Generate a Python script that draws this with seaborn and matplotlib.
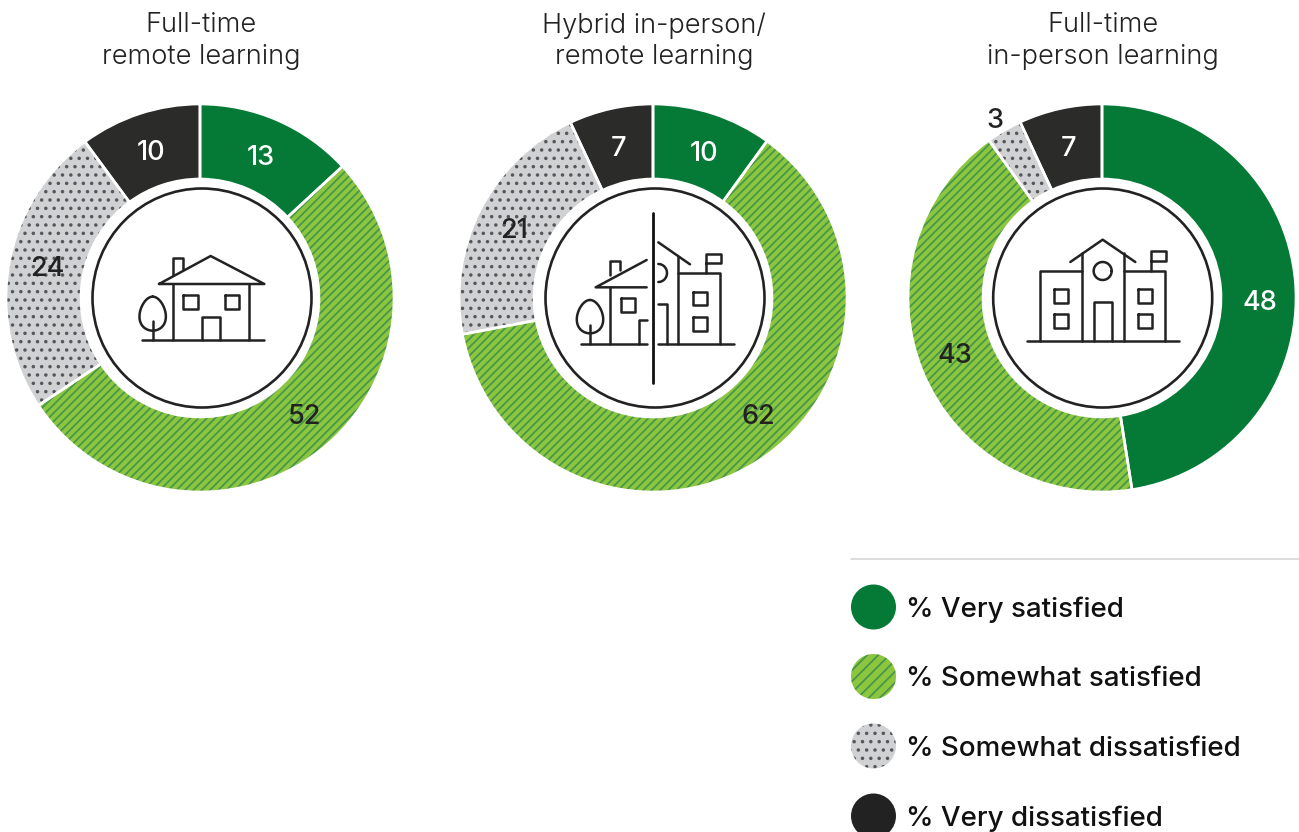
import numpy as np
import matplotlib
matplotlib.use("Agg")
import matplotlib.pyplot as plt
from matplotlib.patches import Circle
import seaborn as sns

# ---- data ----
categories = ["% Very satisfied", "% Somewhat satisfied", "% Somewhat dissatisfied", "% Very dissatisfied"]
titles = ["Full-time\nremote learning", "Hybrid in-person/\nremote learning", "Full-time\nin-person learning"]
remote = [13, 52, 24, 10]
hybrid = [10, 62, 21, 7]
inperson = [48, 43, 3, 7]

# ---- style ----
W, H = 1299, 832
sns.set_theme(style="white", rc={"hatch.linewidth": 1.3})
plt.rcParams["font.family"] = ["Inter", "DejaVu Sans"]
fills = sns.color_palette(["#047a36", "#8cc63f", "#d0d1d3", "#2b2c2a"])
hatch_cols = ["#047a36", "#47964a", "#55575a", "#2b2c2a"]
hatches = [None, "////", "..", None]
leg_hatches = [None, "///", "..", None]
label_cols = ["white", "#222222", "#222222", "white"]

fig = plt.figure(figsize=(W / 100, H / 100), dpi=100, facecolor="white")
ax = fig.add_axes([0, 0, 1, 1])

def Y(py):
    return H - py

CENTERS = [(200, 298), (653, 298), (1102, 298)]
ICON_CENTERS = [(202, 298), (655, 298), (1102.7, 298)]
R, R_IN, R_ICON, R_LABEL = 194, 119, 109.5, 156
# small hand adjustments of label placement: (degrees clockwise, radius)
NUDGE = [{0: (-0.5, 156), 1: (-3.8, 156), 2: (2, 156)}, {0: (1, 156), 1: (-10, 156)},
         {0: (5, 158), 1: (2, 157), 2: (-0.5, 210)}]

for k, vals in enumerate([remote, hybrid, inperson]):
    cx, cy = CENTERS[k]
    wedges, _ = ax.pie(vals, center=(cx, Y(cy)), radius=R, startangle=90, counterclock=False,
                       frame=True, wedgeprops=dict(width=R - R_IN, linewidth=0))
    for i, w in enumerate(wedges):
        w.set_facecolor(fills[i])
        w.set_edgecolor(hatch_cols[i])
        if hatches[i]:
            w.set_hatch(hatches[i])
    ax.pie(vals, center=(cx, Y(cy)), radius=R, startangle=90, counterclock=False, frame=True,
           wedgeprops=dict(width=R - R_IN, fill=False, edgecolor="white", linewidth=1.9))
    for i, w in enumerate(wedges):
        mid = (w.theta1 + w.theta2) / 2
        d, r = NUDGE[k].get(i, (0, R_LABEL))
        a = np.deg2rad(mid - d)
        ax.text(cx + r * np.cos(a), Y(cy + 3.5) + r * np.sin(a), str(vals[i]), ha="center", va="center",
                fontsize=19.5, color=label_cols[i], fontweight=500, zorder=6)
    ix, iy = ICON_CENTERS[k]
    ax.add_patch(Circle((ix, Y(iy)), R_ICON, facecolor="white", edgecolor="#222222", linewidth=1.9, zorder=4))
    lines = titles[k].split("\n")
    for ln, ty in zip(lines, [25.5, 57.5]):
        ax.text(cx + 1, Y(ty), ln, ha="center", va="center", fontsize=19.6, fontweight=300,
                color="#222222")

# ---- icons (drawn in zoom-crop coordinates) ----
ICON = "#222222"
def poly(ox, oy, pts, lw=1.8, color=ICON):
    xs = [ox + p[0] / 3 for p in pts]
    ys = [Y(oy + p[1] / 3) for p in pts]
    ax.plot(xs, ys, color=color, lw=lw, solid_capstyle="round", solid_joinstyle="round", zorder=5)
def box(ox, oy, x0, y0, x1, y1):
    poly(ox, oy, [(x0, y0), (x1, y0), (x1, y1), (x0, y1), (x0, y0)])
def tree(ox, oy, cx, top, bot, hw, base, trunk):
    t = np.linspace(0, 2 * np.pi, 80)
    my = (top + bot) / 2
    hh = (bot - top) / 2
    xs = cx + hw * np.sin(t) * (1 - 0.18 * np.cos(t))
    ys = my - hh * np.cos(t)
    poly(ox, oy, list(zip(xs, ys)))
    poly(ox, oy, [(cx, trunk), (cx, base)])

# house
o = (0, 100)
poly(*o, [(425, 720), (793, 720)])
tree(*o, 458, 590, 692, 39, 720, 662)
poly(*o, [(520, 552), (520, 720)])
poly(*o, [(747, 552), (747, 720)])
poly(*o, [(477, 552), (793, 552), (632, 468), (477, 552)])
poly(*o, [(520, 525), (520, 473), (550, 473), (550, 508)])
box(*o, 550, 585, 593, 627)
box(*o, 675, 585, 717, 627)
poly(*o, [(607, 720), (607, 650), (660, 650), (660, 720)])

# hybrid
o = (530, 190)
poly(*o, [(368, 68), (368, 580)], lw=2.0, color="#111111")
poly(*o, [(153, 461), (350, 461)])
tree(*o, 180, 330, 430, 39, 461, 405)
poly(*o, [(241, 292), (241, 461)])
poly(*o, [(350, 292), (197, 292), (350, 210)])
poly(*o, [(241, 255), (241, 214), (270, 214), (270, 240)])
box(*o, 272, 325, 315, 367)
poly(*o, [(328, 461), (328, 390), (350, 390)])
poly(*o, [(385, 461), (611, 461)])
poly(*o, [(385, 157), (480, 223)])
poly(*o, [(445, 200), (445, 461)])
poly(*o, [(445, 250), (570, 250), (570, 461)])
poly(*o, [(528, 250), (528, 192), (572, 192), (572, 220), (528, 220)])
box(*o, 488, 305, 530, 345)
box(*o, 488, 380, 530, 422)
poly(*o, [(385, 343), (410, 343), (410, 461)])
t = np.linspace(-np.pi / 2, np.pi / 2, 30)
poly(*o, list(zip(385 + 26 * np.cos(t), 249 + 27 * np.sin(t))))

# school
o = (980, 190)
poly(*o, [(140, 453), (597, 453)])
poly(*o, [(180, 453), (180, 242), (305, 242)])
poly(*o, [(305, 190), (305, 453)])
poly(*o, [(431, 190), (431, 453)])
poly(*o, [(271, 216), (368, 149), (466, 216)])
t = np.linspace(0, 2 * np.pi, 60)
poly(*o, list(zip(368 + 27 * np.cos(t), 243 + 27 * np.sin(t))))
poly(*o, [(342, 453), (342, 337), (396, 337), (396, 453)])
poly(*o, [(431, 242), (556, 242), (556, 453)])
box(*o, 221, 297, 264, 339)
box(*o, 221, 372, 264, 414)
box(*o, 474, 297, 517, 339)
box(*o, 474, 372, 517, 414)
poly(*o, [(514, 242), (514, 184), (558, 184), (558, 214), (514, 214)])

# ---- legend ----
ax.plot([851, 1299], [Y(558.5), Y(558.5)], color="#d2d2d2", lw=1.1, zorder=1)
LEG_Y = [607, 676.5, 746, 816]
leg_fill = list(fills[:3]) + ["#222222"]
for i, (lab, ly) in enumerate(zip(categories, LEG_Y)):
    c = Circle((873.5, Y(ly)), 22.5, facecolor=leg_fill[i],
               edgecolor=hatch_cols[i] if leg_hatches[i] else leg_fill[i],
               linewidth=0, hatch=leg_hatches[i], zorder=3)
    ax.add_patch(c)
    ax.text(906, Y(ly + 3), lab, ha="left", va="center", fontsize=20, fontweight=500, color="#111111")

ax.set_xlim(0, W)
ax.set_ylim(0, H)
ax.set_aspect("auto")
ax.axis("off")
fig.savefig("out.png", dpi=100, facecolor="white")
